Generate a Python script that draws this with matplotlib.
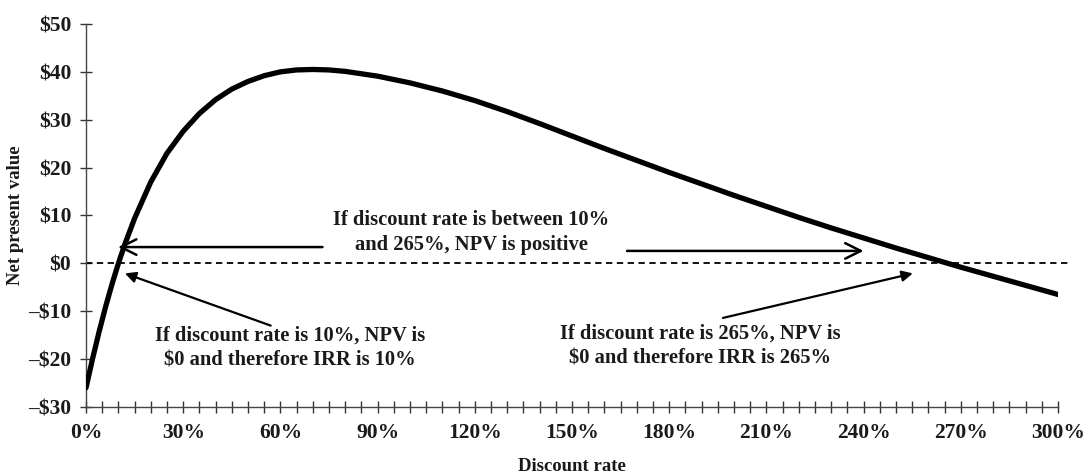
import matplotlib
matplotlib.use("Agg")
import matplotlib.pyplot as plt
from matplotlib.ticker import MultipleLocator, FuncFormatter

# Discount rate (%) and NPV ($)
rates = [0, 2, 4, 6, 8, 10, 12, 15, 20, 25, 30, 35, 40, 45, 50, 55, 60, 65, 70,
         75, 80, 90, 100, 110, 120, 130, 140, 150, 160, 170, 180, 190, 200,
         210, 220, 230, 240, 250, 260, 270, 280, 290, 300]
npv = [-26.0, -20.0, -14.4, -9.2, -4.4, 0.0, 4.0, 9.4, 17.0, 23.0, 27.6, 31.3,
       34.2, 36.4, 38.0, 39.2, 40.0, 40.4, 40.5, 40.4, 40.1, 39.1, 37.7, 36.0,
       34.0, 31.7, 29.2, 26.6, 24.0, 21.5, 19.0, 16.6, 14.2, 11.9, 9.6, 7.4,
       5.3, 3.2, 1.2, -0.8, -2.7, -4.6, -6.5]

x_ticks = [0, 30, 60, 90, 120, 150, 180, 210, 240, 270, 300]
y_ticks = [-30, -20, -10, 0, 10, 20, 30, 40, 50]

txt_between = "If discount rate is between 10%\nand 265%, NPV is positive"
txt_low = "If discount rate is 10%, NPV is\n$0 and therefore IRR is 10%"
txt_high = "If discount rate is 265%, NPV is\n$0 and therefore IRR is 265%"

plt.rcParams['font.family'] = ['Liberation Serif', 'DejaVu Serif']
plt.rcParams['text.parse_math'] = False
TXT = '#1a1a1a'

fig = plt.figure(figsize=(10.9, 4.74), dpi=100)
ax = fig.add_axes([0.0789, 0.1414, 0.8917, 0.808])

ax.plot(rates, npv, color='black', lw=3.8, solid_capstyle='round',
        solid_joinstyle='round', zorder=3)
ax.plot([0, 303], [0, 0], color='black', lw=1.3, ls=(0, (3.5, 2.5)),
        clip_on=False, zorder=2)

ax.set_xlim(0, 300)
ax.set_ylim(-30, 50)
ax.set_xticks(x_ticks)
ax.xaxis.set_minor_locator(MultipleLocator(5))
ax.set_yticks(y_ticks)
ax.xaxis.set_major_formatter(FuncFormatter(lambda v, p: f"{int(v)}%"))
ax.yaxis.set_major_formatter(FuncFormatter(
    lambda v, p: ("\u2013$" if v < 0 else "$") + f"{abs(int(v))}"))

for s in ['top', 'right']:
    ax.spines[s].set_visible(False)
for s in ['left', 'bottom']:
    ax.spines[s].set_color('#444444')
    ax.spines[s].set_linewidth(1.0)

ax.tick_params(axis='both', which='both', direction='inout', color='#333333',
               width=1.0, labelsize=15.5, labelcolor=TXT)
ax.tick_params(axis='x', which='major', length=9, pad=7)
ax.tick_params(axis='x', which='minor', length=9)
ax.tick_params(axis='y', which='major', length=9, pad=6)
for lab in ax.get_xticklabels() + ax.get_yticklabels():
    lab.set_fontweight('bold')

ax.set_xlabel("Discount rate", fontsize=13.5, fontweight='bold', color=TXT,
              labelpad=11)
ax.set_ylabel("Net present value", fontsize=13.5, fontweight='bold', color=TXT,
              labelpad=3)

tkw = dict(fontsize=14.8, fontweight='bold', color=TXT, ha='center',
           va='center', linespacing=1.35)
ax.text(119, 6.5, txt_between, **tkw)
ax.text(63, -17.7, txt_low, **tkw)
ax.text(189.5, -17.3, txt_high, **tkw)

open_arrow = dict(arrowstyle='->', lw=1.8, color='black',
                  mutation_scale=28, shrinkA=0, shrinkB=0)
ax.annotate("", xy=(9.9, 3.4), xytext=(73, 3.4), arrowprops=open_arrow)
ax.annotate("", xy=(240, 2.6), xytext=(167, 2.6), arrowprops=open_arrow)

fill_arrow = dict(arrowstyle='-|>', lw=1.6, color='black', fc='black',
                  mutation_scale=16, shrinkA=0, shrinkB=0)
ax.annotate("", xy=(12.0, -2.1), xytext=(57, -13.0), arrowprops=fill_arrow)
ax.annotate("", xy=(255.2, -2.1), xytext=(196.6, -11.4), arrowprops=fill_arrow)

fig.savefig("out.png", dpi=100)
